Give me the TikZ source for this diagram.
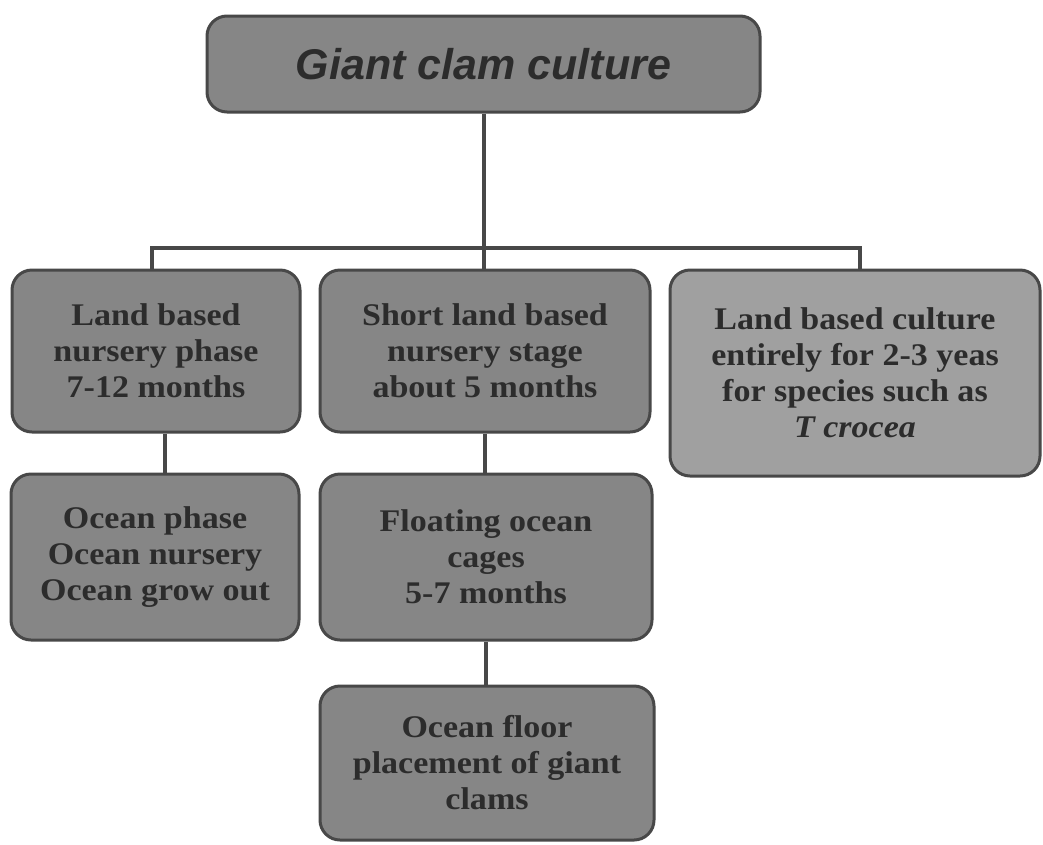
\documentclass[tikz,border=0pt]{standalone}
\usepackage{fontspec}
\setmainfont{Liberation Serif}
\newfontfamily\titlefont{Liberation Sans}
\begin{document}
\begin{tikzpicture}[x=1pt,y=-1pt,
  box/.style={draw=boxline, line width=3pt, rounded corners=20pt, fill=boxfill,
    align=center, inner sep=0pt, text=boxtext,
    font=\addfontfeature{FakeStretch=1.08}\fontsize{31.5}{36}\selectfont\bfseries},
  lightbox/.style={box, fill=boxlight},
  link/.style={draw=boxline, line width=4pt}]
\definecolor{boxfill}{RGB}{134,134,134}
\definecolor{boxlight}{RGB}{160,160,160}
\definecolor{boxline}{RGB}{72,72,72}
\definecolor{boxtext}{RGB}{44,44,44}
\useasboundingbox (0,0) rectangle (1043,844);
\fill[white] (0,0) rectangle (1043,844);

% title
\node[box, minimum width=553, minimum height=96,
      font=\titlefont\fontsize{43}{48}\selectfont\bfseries\itshape]
  (title) at (483.5,64) {Giant clam culture};

% first row
\node[box, minimum width=288, minimum height=162] (land) at (156,351)
  {Land based\\nursery phase\\7-12 months};
\node[box, minimum width=330, minimum height=162] (short) at (485,351)
  {Short land based\\nursery stage\\about 5 months};
\node[lightbox, minimum width=370, minimum height=206] (entire) at (855,373)
  {Land based culture\\entirely for 2-3 yeas\\for species such as\\\textit{T crocea}};

% second row
\node[box, minimum width=288, minimum height=166] (ocean) at (155,557)
  {Ocean phase\\Ocean nursery\\Ocean grow out};
\node[box, minimum width=332, minimum height=166] (cages) at (486,557)
  {Floating ocean\\cages\\5-7 months};

% third row
\node[box, minimum width=334, minimum height=154] (floor) at (487,763)
  {Ocean floor\\placement of giant\\clams};

% branching bar under the title
\coordinate (bar) at (0,248);
\coordinate (jl) at (152,248);
\coordinate (jr) at (860,248);
\coordinate (jm) at (title.south |- bar);
\draw[link] (title.south) -- (jm);
\draw[link, line cap=rect] (jl) -- (jr);
\draw[link] (jl) -- (jl |- land.north);
\draw[link] (jm) -- (jm |- short.north);
\draw[link] (jr) -- (jr |- entire.north);

% vertical links between rows
\coordinate (dl) at (165,0);
\draw[link] (dl |- land.south) -- (dl |- ocean.north);
\draw[link] (short.south) -- (short.south |- cages.north);
\draw[link] (cages.south) -- (cages.south |- floor.north);
\end{tikzpicture}
\end{document}
